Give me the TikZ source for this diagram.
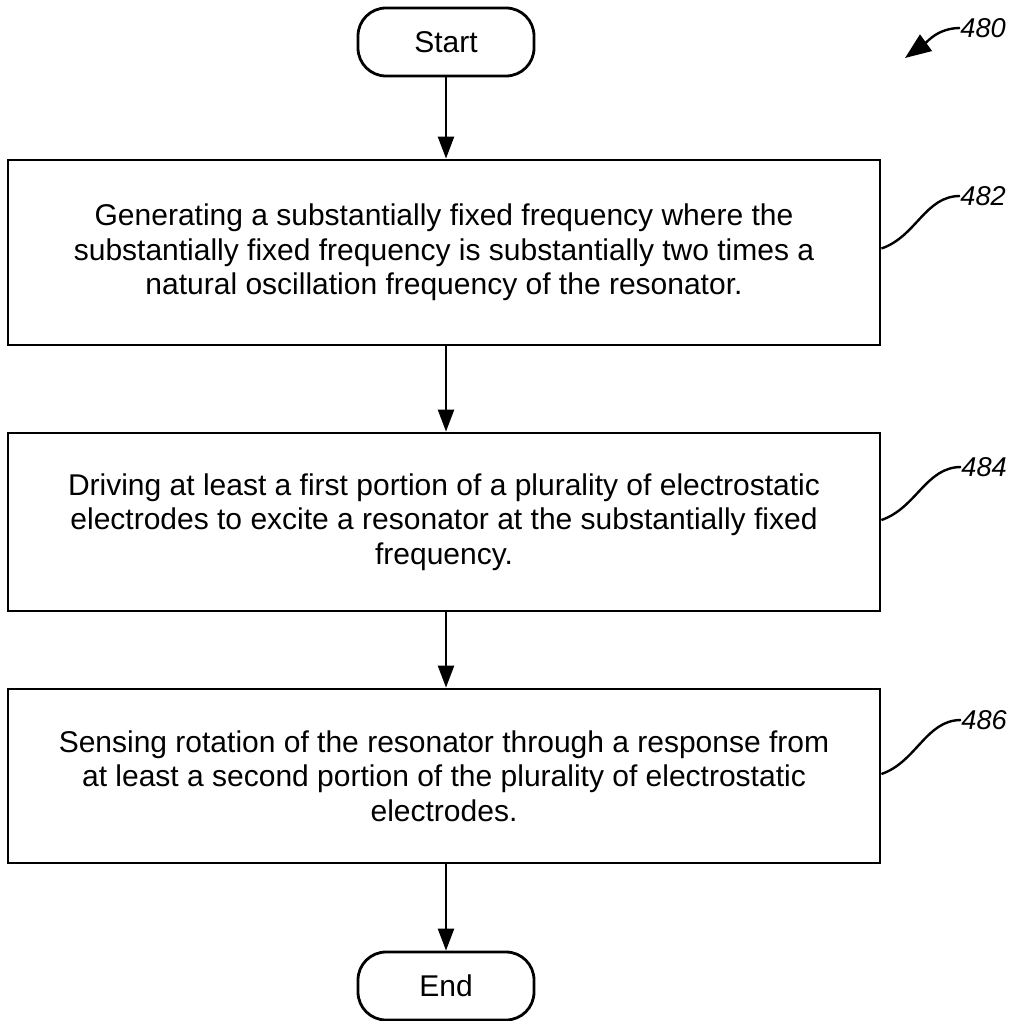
\documentclass[tikz,border=0pt]{standalone}
\usepackage{fontspec}
\setmainfont{Liberation Sans}
\usetikzlibrary{arrows.meta}

\begin{document}
\begin{tikzpicture}[x=0.5pt,y=-0.5pt,
  stepbox/.style={draw,line width=1.4pt,minimum width=436pt,align=center,inner sep=0pt,
    font=\fontsize{15}{17.3}\selectfont},
  termbox/.style={draw,line width=1.4pt,rounded corners=14pt,minimum width=88pt,minimum height=34pt,
    inner sep=0pt,font=\fontsize{15}{17.3}\selectfont},
  refnum/.style={anchor=west,inner sep=0pt,font=\fontsize{13.6}{15}\selectfont\itshape},
  flow/.style={-{Triangle[length=11pt,width=8pt]},line width=1.2pt},
  lead/.style={line width=1.2pt}]
\useasboundingbox (0,0) rectangle (1019,1021);
\node[termbox] (start) at (446,42) {Start};
\node[stepbox,minimum height=92.5pt] (gen) at (444,252.5) {Generating a substantially fixed frequency where the\\
  substantially fixed frequency is substantially two times a\\
  natural oscillation frequency of the resonator.};
\node[stepbox,minimum height=89pt] (drive) at (444,522) {Driving at least a first portion of a plurality of electrostatic\\
  electrodes to excite a resonator at the substantially fixed\\
  frequency.};
\node[stepbox,minimum height=87pt] (sense) at (444,776) {Sensing rotation of the resonator through a response from\\
  at least a second portion of the plurality of electrostatic\\
  electrodes.};
\node[termbox] (end) at (446,986) {End};
\draw[flow] (start) -- (start |- gen.north);
\draw[flow] (start |- gen.south) -- (start |- drive.north);
\draw[flow] (start |- drive.south) -- (start |- sense.north);
\draw[flow] (start |- sense.south) -- (end);
\node[refnum] (n480) at (960,28) {480};
\node[refnum] (n482) at (960,196) {482};
\node[refnum] (n484) at (961,467) {484};
\node[refnum] (n486) at (961,720) {486};
\coordinate (tip480) at (905,58);
\draw[-{Triangle[length=13pt,width=10pt]},line width=1.2pt] (n480.west) .. controls +(-22,0) and +(22,-16) .. (tip480);
\draw[lead] ([yshift=2pt]gen.east) .. controls +(35,-12) and +(-35,0) .. (n482.west);
\draw[lead] ([yshift=1pt]drive.east) .. controls +(35,-12) and +(-35,0) .. (n484.west);
\draw[lead] ([yshift=1pt]sense.east) .. controls +(35,-12) and +(-35,0) .. (n486.west);
\end{tikzpicture}
\end{document}
